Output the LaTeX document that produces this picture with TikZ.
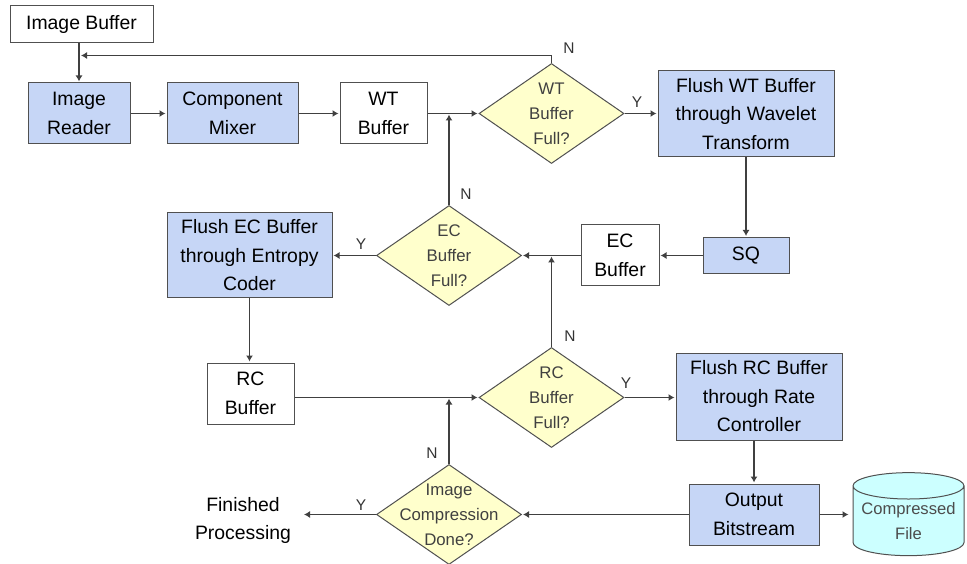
\documentclass[tikz,border=0pt]{standalone}
\usepackage{fontspec}
\setmainfont{Liberation Sans}
\usepackage{xcolor}
\usepackage{tikz}
\usetikzlibrary{shapes.geometric,arrows.meta}

\definecolor{procblue}{HTML}{C6D6F6}
\definecolor{decyellow}{HTML}{FFFFCC}
\definecolor{filecyan}{HTML}{CCFFFF}
\definecolor{edgegray}{HTML}{505050}

\tikzset{
  boxbase/.style={draw=edgegray, line width=1pt, inner sep=0pt, align=center, font=\fontsize{19.4}{28.5}\selectfont},
  buffer/.style={boxbase, fill=white},
  process/.style={boxbase, fill=procblue},
  decision/.style={diamond, draw=edgegray, line width=1pt, fill=decyellow, inner sep=0pt, minimum width=145pt, minimum height=100pt},
  dectext/.style={align=center, text=black!75, inner sep=0pt, font=\fontsize{16.8}{25}\selectfont},
  flow/.style={draw=black!75, line width=1.1pt, shorten >=1pt, -{Latex[length=6pt,width=7pt]}},
  plainline/.style={draw=black!75, line width=1.1pt},
  flag/.style={inner sep=0pt, text=black!80, font=\fontsize{15.5}{18}\selectfont}
}

\begin{document}
\begin{tikzpicture}[x=1pt,y=-1pt]
\useasboundingbox (0,0) rectangle (967,564);

% top row
\node[buffer, minimum width=143pt, minimum height=37pt] (imgbuf) at (81.5,24.5) {Image Buffer};
\node[process, minimum width=102pt, minimum height=61pt] (reader) at (79,113.5) {Image\\Reader};
\node[process, minimum width=131pt, minimum height=61pt] (mixer) at (232.5,113.5) {Component\\Mixer};
\node[buffer, minimum width=87pt, minimum height=61pt] (wtbuf) at (383.5,113.5) {WT\\Buffer};
\node[decision, label={[dectext]center:{WT\\Buffer\\Full?}}] (wtfull) at (551.5,113.5) {};
\node[process, minimum width=176pt, minimum height=86pt] (flushwt) at (746,114) {Flush WT Buffer\\through Wavelet\\Transform};

% second row
\node[process, minimum width=86pt, minimum height=36pt] (sq) at (746,255.5) {SQ};
\node[buffer, minimum width=78pt, minimum height=61pt] (ecbuf) at (620,255.5) {EC\\Buffer};
\node[decision, label={[dectext]center:{EC\\Buffer\\Full?}}] (ecfull) at (449,255.5) {};
\node[process, minimum width=165pt, minimum height=85pt] (flushec) at (249.5,255.5) {Flush EC Buffer\\through Entropy\\Coder};

% third row
\node[buffer, minimum width=87pt, minimum height=61pt] (rcbuf) at (250.5,393.5) {RC\\Buffer};
\node[decision, label={[dectext]center:{RC\\Buffer\\Full?}}] (rcfull) at (551.5,397.5) {};
\node[process, minimum width=166pt, minimum height=87pt] (flushrc) at (759,396.5) {Flush RC Buffer\\through Rate\\Controller};

% bottom row
\node[process, minimum width=130pt, minimum height=61pt] (output) at (754,514.5) {Output\\Bitstream};
\node[decision, label={[dectext]center:{Image\\Compression\\Done?}}] (imgdone) at (449,514.5) {};
\node[align=center, inner sep=0pt, font=\fontsize{19.4}{28.5}\selectfont] (finished) at (243,520.5) {Finished\\Processing};
\node[cylinder, shape border rotate=90, aspect=0.28, draw=edgegray, line width=1pt, fill=filecyan, inner sep=0pt, minimum width=111pt, minimum height=83pt, align=center, text=black!70, font=\fontsize{16.6}{25}\selectfont] (cfile) at (908.5,521) {Compressed\\File};

% junctions
\coordinate (wtback) at (551.5,55.5);
\coordinate (wtjoin) at (79,55.5);
\coordinate (ecup) at (449,113.5);
\coordinate (rcup) at (551.5,255.5);
\coordinate (doneup) at (449,397.5);
\coordinate (donestop) at (303,514.5);

\draw[flow] (imgbuf.south -| reader.north) -- (reader.north);
\draw[plainline] (wtfull.north) -- (wtback);
\draw[flow] (wtback) -- ([xshift=1pt]wtjoin);
\draw[flow] (reader) -- (mixer);
\draw[flow] (mixer) -- (wtbuf);
\draw[flow] (wtbuf) -- (wtfull);
\draw[flow] (wtfull) -- (wtfull -| flushwt.west);
\draw[flow] (flushwt.south) -- (sq.north);
\draw[flow] (sq) -- (ecbuf);
\draw[flow] (ecbuf) -- (ecfull);
\draw[flow] (ecfull) -- (flushec);
\draw[flow] (ecfull.north) -- (ecup);
\draw[flow] (flushec.south) -- (flushec.south |- rcbuf.north);
\draw[flow] (rcbuf.east |- rcfull) -- (rcfull);
\draw[flow] (rcfull.north) -- (rcup);
\draw[flow] (rcfull) -- (rcfull -| flushrc.west);
\draw[flow] (flushrc.south -| output.north) -- (output.north);
\draw[flow] (output) -- (imgdone);
\draw[flow, shorten >=4pt] (output) -- (output -| cfile.west);
\draw[flow] (imgdone.north) -- (doneup);
\draw[flow] (imgdone) -- (donestop);

% branch letters
\node[flag] (nwt) at (569,48) {N};
\node[flag] (ywt) at (637,102) {Y};
\node[flag] (nec) at (466,194) {N};
\node[flag] (yec) at (361,244) {Y};
\node[flag] (nrc) at (570,336) {N};
\node[flag] (yrc) at (626,383) {Y};
\node[flag] (ndone) at (432,453) {N};
\node[flag] (ydone) at (361,505) {Y};
\end{tikzpicture}
\end{document}
